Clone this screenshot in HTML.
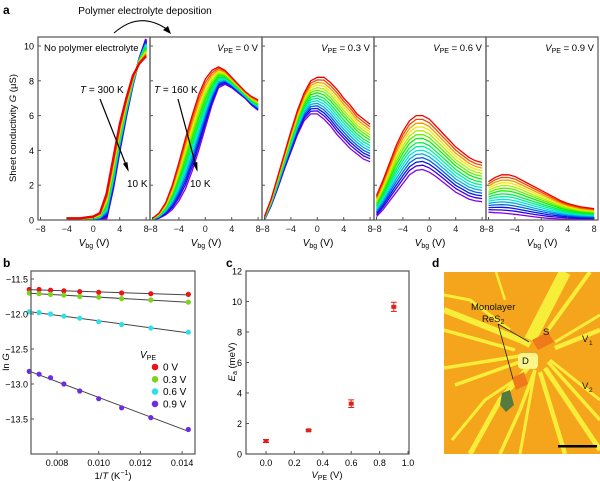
<!DOCTYPE html>
<html><head><meta charset="utf-8"><style>
body{margin:0;background:#fff;}
svg{display:block;font-family:"Liberation Sans",sans-serif;}
</style></head><body>
<svg id="fig" width="600" height="481" viewBox="0 0 600 481" xmlns="http://www.w3.org/2000/svg">
<g id="pa"></g>
<g id="pb"></g>
<g id="pc"></g>
<g id="pd"></g>
</svg>
<script>
// ---------- Panel a data ----------
const vbg = [-8,-7,-6,-5,-4,-3,-2,-1,0,1,2,3,4,5,6,7,8];
const panelLabels = ["No polymer electrolyte","0 V","0.3 V","0.6 V","0.9 V"];
const curveFractions = [0,0.07,0.14,0.21,0.28,0.35,0.42,0.5,0.57,0.64,0.71,0.78,0.85,0.92,1];
const p1Hot  = [null,null,null,null,0.1,0.1,0.1,0.15,0.2,0.4,1.5,3.5,5.5,7.0,8.3,9.0,9.4];
const p1Cold = [null,null,null,null,0.05,0.05,0.05,0.05,0.05,0.05,0.1,1.8,4.0,6.0,7.8,9.3,10.4];
const p2Hot  = [0.1,0.4,1.0,2.0,3.3,4.7,6.0,7.2,8.1,8.6,8.8,8.6,8.2,7.8,7.4,7.1,6.9];
const p2Cold = [0.0,0.1,0.3,0.6,1.1,1.8,2.8,4.0,5.3,6.6,7.6,7.8,7.6,7.3,7.0,6.6,6.3];
const p3Hot  = [0.2,1.2,2.5,3.8,5.1,6.3,7.3,8.0,8.2,8.2,7.9,7.5,7.0,6.6,6.1,5.8,5.5];
const p3Cold = [0.0,0.8,1.8,2.9,3.9,4.9,5.7,6.1,6.1,5.8,5.4,4.9,4.5,4.1,3.8,3.5,3.35];
const p4Hot  = [1.4,2.3,3.3,4.3,5.1,5.7,6.0,6.0,5.8,5.4,5.0,4.6,4.2,3.9,3.6,3.4,3.3];
const p4Cold = [0.2,0.6,1.1,1.6,2.1,2.6,2.85,2.9,2.75,2.5,2.2,1.9,1.6,1.4,1.2,1.1,1.05];
const p5Hot  = [2.2,2.45,2.6,2.6,2.5,2.3,2.1,1.9,1.7,1.5,1.3,1.1,0.95,0.85,0.75,0.7,0.65];
const p5Cold = [0.45,0.42,0.4,0.37,0.33,0.28,0.23,0.18,0.14,0.1,0.08,0.06,0.05,0.04,0.03,0.03,0.03];
const panelsHot = [p1Hot,p2Hot,p3Hot,p4Hot,p5Hot];
const panelsCold = [p1Cold,p2Cold,p3Cold,p4Cold,p5Cold];
const aYTicks = [0,2,4,6,8,10];
const aXTicks = [-8,-4,0,4,8];

// ---------- Panel b data ----------
const invT = [0.00667,0.00714,0.00769,0.00833,0.00909,0.0100,0.0111,0.0125,0.0143];
const lnG0 = [-11.65,-11.65,-11.66,-11.67,-11.68,-11.69,-11.70,-11.71,-11.72];
const lnG3 = [-11.70,-11.71,-11.72,-11.73,-11.75,-11.76,-11.78,-11.80,-11.83];
const lnG6 = [-11.97,-11.98,-12.00,-12.03,-12.06,-12.11,-12.15,-12.20,-12.26];
const lnG9 = [-12.82,-12.86,-12.91,-13.00,-13.10,-13.21,-13.34,-13.48,-13.65];
const bSeriesNames = ["0 V","0.3 V","0.6 V","0.9 V"];
const bYTicks = [-11.5,-12.0,-12.5,-13.0,-13.5];
const bXTicks = [0.008,0.010,0.012,0.014];

// ---------- Panel c data ----------
const vpe = [0,0.3,0.6,0.9];
const ea = [0.85,1.55,3.3,9.65];
const eaErr = [0.1,0.05,0.25,0.3];
const cYTicks = [0,2,4,6,8,10,12];
const cXTicks = [0,0.2,0.4,0.6,0.8,1.0];

const NS="http://www.w3.org/2000/svg";
function mk(parent,tag,attrs,text){const e=document.createElementNS(NS,tag);for(const k in attrs)e.setAttribute(k,attrs[k]);if(text!==undefined)e.textContent=text;parent.appendChild(e);return e;}

// ===== Panel a =====
const pa=document.getElementById('pa');
const aTop=37,aBot=220,aY=v=>aBot-v*17.4;
const colors=curveFractions.map(f=>`hsl(${Math.round(f*275)},100%,${f>0.6?45:47}%)`);
let t;
t=mk(pa,'text',{x:3,y:14,'font-size':12,'font-weight':'bold'},'a');

t=mk(pa,'text',{x:145,y:14,'font-size':10,'text-anchor':'middle'},'Polymer electrolyte deposition');

t=mk(pa,'path',{d:'M114,33 Q140,10 168,30',fill:'none',stroke:'#000','stroke-width':1});

mk(pa,'polygon',{points:'171,34 163,30 168,26',fill:'#000'});
for(let p=0;p<5;p++){
  const x0=38+p*112;
  const ax=v=>x0+2.5+(v+8)*6.6;
  const g=mk(pa,'g',{});
  
  const hot=panelsHot[p],cold=panelsCold[p];
  for(let c=curveFractions.length-1;c>=0;c--){
    const f=curveFractions[c];let d='';
    vbg.forEach((v,i)=>{if(hot[i]===null)return;const val=hot[i]*(1-f)+cold[i]*f;d+=(d?'L':'M')+ax(v).toFixed(1)+','+aY(val).toFixed(1);});
    const pl=mk(g,'path',{d:d,fill:'none',stroke:colors[c],'stroke-width':p===0?2.2:1.3});
    
  }
  aXTicks.forEach(v=>{mk(g,'line',{x1:ax(v),x2:ax(v),y1:aBot,y2:aBot-3,stroke:'#555'});
    const tl=mk(g,'text',{x:ax(v),y:232,'font-size':9,'text-anchor':'middle',fill:'#222'},v<0?'\u2212'+(-v):v);
    });
  aYTicks.forEach(v=>mk(g,'line',{x1:x0,x2:x0+3,y1:aY(v),y2:aY(v),stroke:'#555'}));
  const r=mk(g,'rect',{x:x0,y:aTop,width:112,height:aBot-aTop,fill:'none',stroke:'#555','stroke-width':1.2});
  
  const xl=mk(g,'text',{x:x0+56,y:246,'font-size':10,'text-anchor':'middle'});
  
  xl.innerHTML='<tspan font-style="italic">V</tspan><tspan font-size="7" dy="2">bg</tspan><tspan dy="-2"> (V)</tspan>';
  const lab=mk(g,'text',{x:p===0?x0+6:x0+108,y:51,'font-size':9.5,'text-anchor':p===0?'start':'end'});
  
  if(p===0)lab.textContent=panelLabels[0];
  else lab.innerHTML='<tspan font-style="italic">V</tspan><tspan font-size="7" dy="2">PE</tspan><tspan dy="-2"> = '+panelLabels[p]+'</tspan>';
}
aYTicks.forEach(v=>{const tl=mk(pa,'text',{x:34,y:aY(v)+3.5,'font-size':9,'text-anchor':'end'},v);
  });
t=mk(pa,'text',{x:16,y:128,'font-size':9.5,'text-anchor':'middle',transform:'rotate(-90 16 128)'});

t.innerHTML='Sheet conductivity <tspan font-style="italic">G</tspan> (\u03bcS)';
function tempAnno(tx,ty,label,x1,y1,x2,y2,lx){
  let e=mk(pa,'text',{x:tx,y:ty,'font-size':10});e.innerHTML='<tspan font-style="italic">T</tspan> = '+label;
  
  e=mk(pa,'line',{x1:x1,y1:y1,x2:x2,y2:y2,stroke:'#000','stroke-width':1.2});
  
  const a=Math.atan2(y2-y1,x2-x1),L=8;
  mk(pa,'polygon',{points:`${x2+2*Math.cos(a)},${y2+2*Math.sin(a)} ${x2-L*Math.cos(a-0.3)},${y2-L*Math.sin(a-0.3)} ${x2-L*Math.cos(a+0.3)},${y2-L*Math.sin(a+0.3)}`,fill:'#000'});
  e=mk(pa,'text',{x:lx,y:187,'font-size':10},'10 K');
  
}
tempAnno(80,93,'300 K',100,99,128,170,127);
tempAnno(154,93,'160 K',178,99,197,170,190);

// ===== Panel b =====
const pb=document.getElementById('pb');
const bx=v=>57+(v-0.008)*20850, by=v=>279+(-11.5-v)*70;
t=mk(pb,'text',{x:3,y:267,'font-size':12,'font-weight':'bold'},'b');

const bSeries=[lnG0,lnG3,lnG6,lnG9], bCols=['#e8141a','#7cd31c','#2fe0e8','#6a2ee0'];
bSeries.forEach((s,k)=>{
  const n=invT.length,mx=invT.reduce((a,b)=>a+b)/n,my=s.reduce((a,b)=>a+b)/n;
  let sxy=0,sxx=0;invT.forEach((x,i)=>{sxy+=(x-mx)*(s[i]-my);sxx+=(x-mx)*(x-mx);});
  const m=sxy/sxx,b0=my-m*mx,xa=invT[0],xb=invT[n-1];
  const ln=mk(pb,'line',{x1:bx(xa),y1:by(m*xa+b0),x2:bx(xb),y2:by(m*xb+b0),stroke:'#444','stroke-width':1});
  
  s.forEach((v,i)=>{const c=mk(pb,'circle',{cx:bx(invT[i]),cy:by(v),r:2.6,fill:bCols[k]});
    });
});
t=mk(pb,'rect',{x:31,y:271,width:164,height:183,fill:'none',stroke:'#555','stroke-width':1.2});

bYTicks.forEach(v=>{mk(pb,'line',{x1:31,x2:34,y1:by(v),y2:by(v),stroke:'#555'});
  const tl=mk(pb,'text',{x:28,y:by(v)+3.5,'font-size':9,'text-anchor':'end'},'\u2212'+(-v).toFixed(1));
  });
bXTicks.forEach(v=>{mk(pb,'line',{x1:bx(v),x2:bx(v),y1:454,y2:451,stroke:'#555'});
  const tl=mk(pb,'text',{x:bx(v),y:466,'font-size':9,'text-anchor':'middle'},v.toFixed(3));
  });
t=mk(pb,'text',{x:9,y:362,'font-size':9.5,'text-anchor':'middle',transform:'rotate(-90 9 362)'});

t.innerHTML='ln <tspan font-style="italic">G</tspan>';
t=mk(pb,'text',{x:113,y:479,'font-size':9.5,'text-anchor':'middle'});

t.innerHTML='1/<tspan font-style="italic">T</tspan> (K<tspan font-size="7" dy="-4">\u22121</tspan><tspan dy="4">)</tspan>';
t=mk(pb,'text',{x:140,y:358,'font-size':10});

t.innerHTML='<tspan font-style="italic">V</tspan><tspan font-size="7" dy="2">PE</tspan>';
bSeriesNames.forEach((nm,k)=>{const yy=367+k*12.3;
  const g=mk(pb,'g',{});
  mk(g,'circle',{cx:155,cy:yy,r:3.3,fill:bCols[k]});mk(g,'text',{x:163,y:yy+3.5,'font-size':10},nm);});

// ===== Panel c =====
const pc=document.getElementById('pc');
const cx=v=>266+v*142, cy=v=>454-v*15.25;
t=mk(pc,'text',{x:226,y:267,'font-size':12,'font-weight':'bold'},'c');

t=mk(pc,'rect',{x:246,y:271,width:163,height:183,fill:'none',stroke:'#555','stroke-width':1.2});

cYTicks.forEach(v=>{mk(pc,'line',{x1:246,x2:249,y1:cy(v),y2:cy(v),stroke:'#555'});
  const tl=mk(pc,'text',{x:242,y:cy(v)+3.5,'font-size':9,'text-anchor':'end'},v);
  });
cXTicks.forEach(v=>{mk(pc,'line',{x1:cx(v),x2:cx(v),y1:454,y2:451,stroke:'#555'});
  const tl=mk(pc,'text',{x:cx(v),y:466,'font-size':9,'text-anchor':'middle'},v.toFixed(1));
  });
vpe.forEach((v,i)=>{const g=mk(pc,'g',{});
  
  const x=cx(v),y1=cy(ea[i]+eaErr[i]),y2=cy(ea[i]-eaErr[i]);
  mk(g,'line',{x1:x,x2:x,y1:y1,y2:y2,stroke:'#e0201a','stroke-width':1});
  mk(g,'line',{x1:x-3,x2:x+3,y1:y1,y2:y1,stroke:'#e0201a','stroke-width':1});
  mk(g,'line',{x1:x-3,x2:x+3,y1:y2,y2:y2,stroke:'#e0201a','stroke-width':1});
  mk(g,'rect',{x:x-2.5,y:cy(ea[i])-2,width:5,height:4,fill:'#e0201a'});});
t=mk(pc,'text',{x:235,y:362,'font-size':9.5,'text-anchor':'middle',transform:'rotate(-90 235 362)'});

t.innerHTML='<tspan font-style="italic">E</tspan><tspan font-size="7" dy="2">a</tspan><tspan dy="-2"> (meV)</tspan>';
t=mk(pc,'text',{x:327,y:478,'font-size':9.5,'text-anchor':'middle'});

t.innerHTML='<tspan font-style="italic">V</tspan><tspan font-size="7" dy="2">PE</tspan><tspan dy="-2"> (V)</tspan>';

// ===== Panel d (micrograph) =====
const pd=document.getElementById('pd');
t=mk(pd,'text',{x:432,y:267,'font-size':12,'font-weight':'bold'},'d');

const img=mk(pd,'g',{});
mk(img,'defs',{}).innerHTML='<clipPath id="dc"><rect x="444" y="272" width="156" height="182"/></clipPath>';
mk(img,'rect',{x:444,y:272,width:156,height:182,fill:'#f5a51c'});
const gg=mk(img,'g',{'clip-path':'url(#dc)',stroke:'#f7ee3a','stroke-linecap':'butt',fill:'none'});
const stripes=[['M444,310 L520,340 L530,345',6],['M444,330 L515,350',3.5],['M444,368 L520,356',3.5],['M455,385 L525,360',3.5],['M470,454 L500,400 L530,365',5],['M500,454 L520,410 L535,370',3.5],['M520,454 L535,370',3],['M565,454 L540,372',4.5],['M600,450 L545,368',5],['M600,420 L548,362',3.5],['M600,400 L550,360',3],['M600,330 L555,348',4.5],['M600,315 L555,342',3],['M565,272 L530,340',12],['M590,272 L548,330',4],['M444,295 L470,300 L510,330',3],['M452,440 L485,400 L515,380',3],['M496,272 L505,300',2.5]];
stripes.forEach(s=>mk(gg,'path',{d:s[0],'stroke-width':s[1]}));
mk(img,'rect',{x:518,y:353,width:20,height:16,rx:4,fill:'#f9f58a'});
mk(img,'polygon',{points:'532,340 548,332 554,342 538,350',fill:'#ee7a1a'});
mk(img,'polygon',{points:'512,378 524,372 528,384 516,390',fill:'#ee7a1a'});
mk(img,'polygon',{points:'502,393 510,390 514,405 506,412 500,405',fill:'#557a40'});
mk(img,'line',{x1:498,y1:324,x2:529,y2:342,stroke:'#222','stroke-width':0.8});
mk(img,'line',{x1:498,y1:324,x2:513,y2:379,stroke:'#222','stroke-width':0.8});
const dl=[['Monolayer',471,310],['S',543,335],['D',522,364],['V',582,342],['V',582,389]];
dl.forEach(d=>{const e=mk(img,'text',{x:d[1],y:d[2],'font-size':9.5,fill:'#111'},d[0]);
  });
t=mk(img,'text',{x:482,y:322,'font-size':9.5,fill:'#111'});t.innerHTML='ReS<tspan font-size="7" dy="2">2</tspan>';
mk(img,'text',{x:589,y:345,'font-size':6.5,fill:'#111'},'1');
mk(img,'text',{x:589,y:392,'font-size':6.5,fill:'#111'},'2');
t=mk(img,'rect',{x:558,y:445,width:39,height:2.5,fill:'#000'});

</script>
</body></html>
